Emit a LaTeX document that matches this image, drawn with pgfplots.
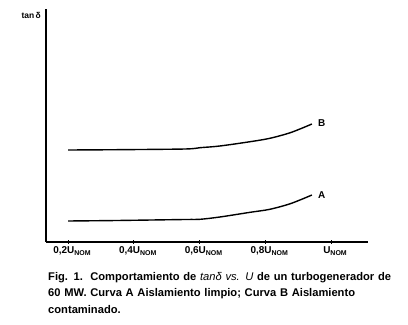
\documentclass[border=0pt]{standalone}
\usepackage{pgfplots}
\pgfplotsset{compat=1.18}
\usepackage{fontspec}
\setmainfont{Liberation Sans}
\newcommand{\nom}{\raisebox{-2.5bp}{\fontsize{7}{7}\selectfont NOM}}
\begin{document}
\begin{tikzpicture}
\path[use as bounding box] (0,0) rectangle (408bp,325bp);
\begin{axis}[
  scale only axis,
  width=322bp, height=233bp,
  at={(46bp,83bp)}, anchor=south west,
  xmin=0.133, xmax=1.1125,
  ymin=0, ymax=233,
  axis x line=bottom, axis y line=left,
  axis line style={line width=1.6bp, -},
  xtick={0.2,0.4,0.6,0.8,1.0},
  xticklabels={0{,}2U\nom,0{,}4U\nom,0{,}6U\nom,0{,}8U\nom,U\nom},
  ytick=\empty,
  tick style={black, line width=0.6bp},
  major tick length=4bp, tick align=center,
  xticklabel style={font=\fontsize{10}{10}\selectfont\bfseries, yshift=1bp, xshift=4bp},
  clip=false,
]
\addplot[black, line width=1.4bp, smooth] coordinates {
  (0.2,92) (0.349,92.3) (0.556,93) (0.6015,94.3) (0.662,96) (0.754,100.3) (0.814,103.7) (0.878,109.5) (0.942,118)};
\addplot[black, line width=1.4bp, smooth] coordinates {
  (0.2,21) (0.349,21.5) (0.556,22.5) (0.6015,22.7) (0.662,25) (0.754,29.7) (0.814,32.7) (0.878,38.5) (0.942,47)};
\node[font=\fontsize{10}{10}\selectfont\bfseries, anchor=west, inner sep=0pt] at (axis cs:0.96,119) {B};
\node[font=\fontsize{10}{10}\selectfont\bfseries, anchor=west, inner sep=0pt] at (axis cs:0.96,47) {A};
\end{axis}
\node[font=\fontsize{8.5}{9}\selectfont\bfseries, anchor=east, inner sep=0pt] at (41bp,310bp) {tan\,δ};
\node[anchor=north west, inner sep=0pt, text width=360bp, align=left,
  font=\fontsize{11.2}{16.5}\selectfont\bfseries] at (48bp,53bp)
  {\hyphenpenalty=10000 Fig. 1.\ \ Comportamiento de {\mdseries\itshape tanδ vs. U} de un turbogenerador de\\60 MW. Curva A Aislamiento limpio; Curva B Aislamiento\\contaminado.};
\end{tikzpicture}
\end{document}
